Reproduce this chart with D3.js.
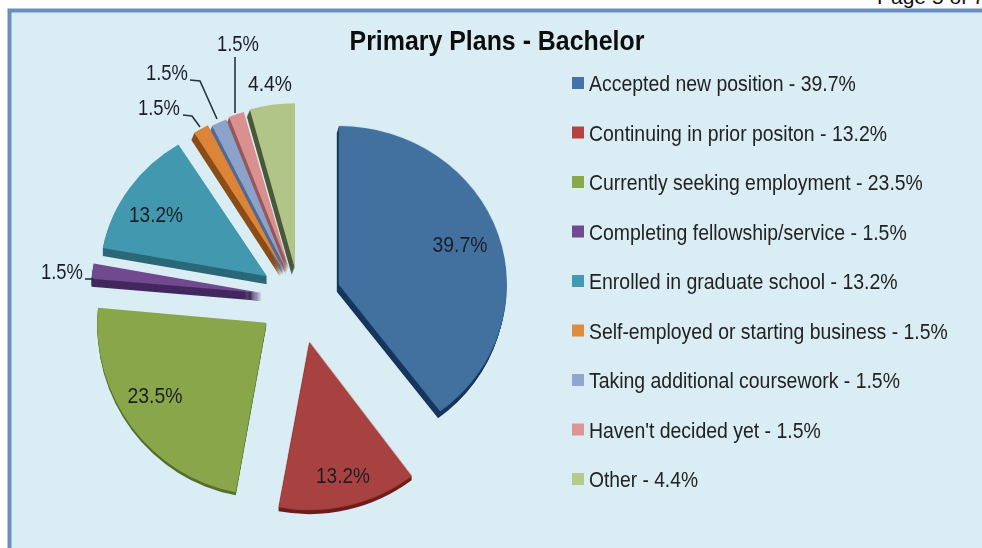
<!DOCTYPE html>
<html><head><meta charset="utf-8">
<script src="https://cdn.jsdelivr.net/npm/d3@7/dist/d3.min.js"></script>
<style>html,body{margin:0;padding:0;background:#fff}svg{display:block}text{font-family:"Liberation Sans",Arial,sans-serif}</style>
</head><body><svg id="c" width="982" height="548"></svg>
<script>
const categories=["Accepted new position","Continuing in prior positon","Currently seeking employment","Completing fellowship/service","Enrolled in graduate school","Self-employed or starting business","Taking additional coursework","Haven't decided yet","Other"];
const values=[39.7,13.2,23.5,1.5,13.2,1.5,1.5,1.5,4.4];
const topColors=["#43719f","#a8433f","#8aa64c","#6f4a8e","#4398ae","#dc8438","#8ba2cb","#d9908f","#b1c589"];
const sideColors=["#17375e","#6e1f1c","#55702a","#43295e","#2a6878","#8a4d17","#55688d","#94595a","#4a5a38"];
const legendColors=["#4471a8","#b5423f","#8aa84a","#6f4a90","#3f9ab3","#e08a3c","#8fa6d0","#dc9593","#b5cb8d"];
// per-slice layout of the exploded perspective pie
const explode=[42,45,41,37.5,38.7,32,32,32,30];
const radii=[168,170,169,171,167,168,165,165,165];
const squash=[0.945,0.99,1.02,0.95,0.93,0.965,0.97,0.98,1];
const depthY=[7,4,3,8,8,7,7,7,7];
const depthX=[-2,0,0,0,0,-3,-3,-3,-3];
const W=982,H=548,cx=299,cy=298;
const svg=d3.select("#c");
const defs=svg.append("defs");
defs.append("filter").attr("id","soft").attr("x","-5%").attr("y","-5%").attr("width","110%").attr("height","110%")
 .append("feGaussianBlur").attr("stdDeviation",0.45);
svg.append("rect").attr("x",9.5).attr("y",10.5).attr("width",W).attr("height",H).attr("fill","#daedf4").attr("stroke","#6a8fbf").attr("stroke-width",4);
const root=svg.append("g").attr("filter","url(#soft)");
const pie=d3.pie().sort(null)(values);
const arc=d3.arc().innerRadius(0);
const pos=(d,i,dx=0,dy=0)=>{const m=(d.startAngle+d.endAngle)/2;return [cx+explode[i]*Math.sin(m)+dx,cy-explode[i]*Math.cos(m)+dy];};
const slices=root.append("g");
pie.forEach((d,i)=>{
  const steps=d3.range(depthY[i],0,-1);
  slices.selectAll(null).data(steps).join("path").attr("d",arc.outerRadius(radii[i])(d)).attr("fill",sideColors[i])
   .attr("transform",s=>{const p=pos(d,i,depthX[i]*s/depthY[i],s);return `translate(${p[0]},${p[1]}) scale(1,${squash[i]})`;});
});
slices.selectAll(".top").data(pie).join("path").attr("class","top").attr("d",(d,i)=>arc.outerRadius(radii[i])(d)).attr("fill",(d,i)=>topColors[i])
 .attr("transform",(d,i)=>{const p=pos(d,i);return `translate(${p[0]},${p[1]}) scale(1,${squash[i]})`;});
// fit a text to a width by horizontal scaling
function fit(sel,widthOf,xOf,yOf,anchorMid){
  sel.each(function(d,i){
    const k=widthOf(d,i)/this.getComputedTextLength();
    d3.select(this).attr("transform",`translate(${xOf(d,i)},${yOf(d,i)}) scale(${k},1)`);
  });
}
// title
root.append("text").attr("text-anchor","middle").attr("font-size",27).attr("font-weight","bold").attr("fill","#111").text("Primary Plans - Bachelor")
 .call(fit,()=>295,()=>497,()=>50);
// legend
const legendY=d3.scaleLinear().domain([0,8]).range([83,479]);
const legendWidths=[267,298,334,318,309,359,311,232,109];
const lg=root.append("g").selectAll("g").data(categories).join("g").attr("transform",(d,i)=>`translate(572,${legendY(i)})`);
lg.append("rect").attr("x",0).attr("y",-6).attr("width",12).attr("height",12).attr("fill",(d,i)=>legendColors[i]);
lg.append("text").attr("font-size",22).attr("fill","#222").text((d,i)=>`${d} - ${values[i]}%`)
 .each(function(d,i){const k=legendWidths[i]/this.getComputedTextLength();d3.select(this).attr("transform",`translate(17,8) scale(${k},1)`);});
// value labels
const fmt=v=>v.toFixed(1)+"%";
const labelAt=[[460,244],[343,475],[155,395],[62,271],[156,214],[159,107],[167,72],[238,43],[270,83]];
const labelWidths=[55,54,55,42,54,42,42,42,44];
root.append("g").selectAll("text").data(values).join("text")
 .attr("text-anchor","middle").attr("font-size",22.5).attr("fill","#1a1f28").text(v=>fmt(v))
 .call(fit,(v,i)=>labelWidths[i],(v,i)=>labelAt[i][0],(v,i)=>labelAt[i][1]+8);
// leaders
const leaders=[[[85,279],[94,279]],[[183,115],[192,116],[200,127]],[[190,80],[200,81],[217,119]],[[235,57],[235,113]]];
root.append("g").selectAll("path").data(leaders).join("path").attr("d",d3.line()).attr("fill","none").attr("stroke","#22343f").attr("stroke-width",1.6);
// page tag
svg.append("text").attr("x",877).attr("y",4).attr("font-size",21).attr("fill","#111").text("Page 5 of 7");
</script></body></html>
